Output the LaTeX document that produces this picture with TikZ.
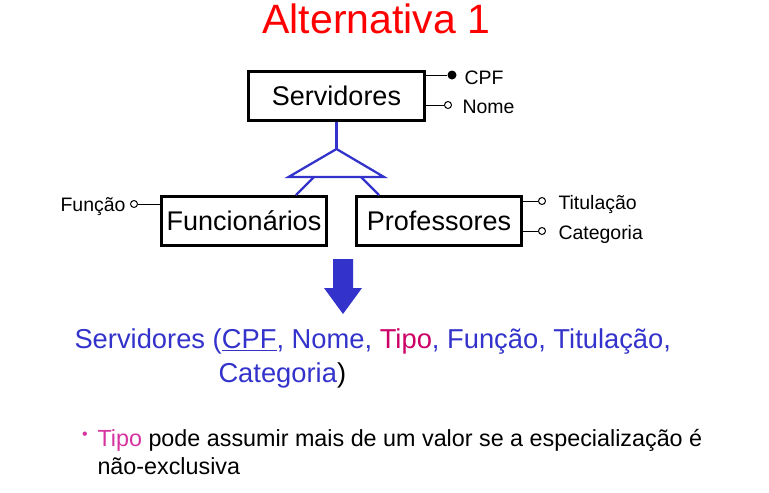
\documentclass[tikz,border=0pt]{standalone}
\usepackage{fontspec}
\setmainfont{Liberation Sans}

\definecolor{erblue}{RGB}{51,51,204}
\definecolor{tipored}{RGB}{204,0,102}
\definecolor{tipopink}{RGB}{214,51,160}
\definecolor{titlered}{RGB}{255,0,0}

\tikzset{every picture/.style={line width=0.75pt}}
\tikzset{
  entity/.style={draw, line width=2.25pt, inner sep=0pt, minimum height=36.75pt, font=\fontsize{20.25}{24}\selectfont},
  attropen/.style={circle, draw, fill=white, inner sep=0pt, minimum size=5.25pt},
  attrkey/.style={circle, fill=black, inner sep=0pt, minimum size=6.75pt},
  attrtext/.style={inner sep=0pt, font=\fontsize{14.6}{17}\selectfont},
  isaline/.style={draw=erblue, line width=1.7pt, line join=miter},
  reltext/.style={inner sep=0pt, text=erblue, font=\fontsize{20.5}{24}\selectfont},
  notetext/.style={inner sep=0pt, font=\fontsize{17.5}{21}\selectfont}
}

\begin{document}
\begin{tikzpicture}[x=0.75pt,y=0.75pt,yscale=-1,xscale=1]
	\useasboundingbox (0,0) rectangle (769,493);

	% Text Node
	\node [inner sep=0pt, text=titlered, anchor=base, font=\fontsize{30.75}{36}\selectfont] (title) at (376.5,33) {Alternativa 1};

	%Shape: Rectangle
	\node [entity, minimum width=132pt] (srv) at (336.5,96) {Servidores};
	%Shape: Rectangle
	\node [entity, minimum width=123.75pt] (func) at (244,221) {Funcionários};
	%Shape: Rectangle
	\node [entity, minimum width=123.75pt] (prof) at (439,221) {Professores};

	%Shape: Circle
	\node [attrkey] (cpf) at (452,75) {};
	\node [attropen] (nome) at (448,105) {};
	\node [attropen] (funcao) at (134,204) {};
	\node [attropen] (titul) at (542,201) {};
	\node [attropen] (categ) at (542,231) {};

	%Straight Lines
	\draw (srv.east |- cpf) -- (cpf);
	\draw (srv.east |- nome) -- (nome.west);
	\draw (func.west |- funcao) -- (funcao.east);
	\draw (prof.east |- titul) -- (titul.west);
	\draw (prof.east |- categ) -- (categ.west);

	% Text Node
	\node [attrtext, anchor=base west] (cpflbl) at (464,84) {CPF};
	\node [attrtext, anchor=base west] (nomelbl) at (462,113) {Nome};
	\node [attrtext, anchor=base east] (funcaolbl) at (126,211) {Função};
	\node [attrtext, anchor=base west] (titullbl) at (558,209) {Titulação};
	\node [attrtext, anchor=base west] (categlbl) at (558,239) {Categoria};

	%Shape: Triangle
	\coordinate (isa) at (336.5,149);
	\coordinate (isaL) at (314,177);
	\coordinate (isaR) at (361,177);
	\draw [isaline] (srv.south) -- (isa);
	\draw [isaline] (isa) -- (288.5,177) -- (384,177) -- cycle;
	\draw [isaline] (isaL) -- (296,0 |- func.north);
	\draw [isaline] (isaR) -- (379,0 |- prof.north);

	%Shape: Down Arrow
	\fill [erblue] (333,259) -- (353,259) -- (353,288) -- (362,288) -- (343,314) -- (324,288) -- (333,288) -- cycle;

	% Text Node
	\node [reltext, anchor=base west] (rel1) at (74,348) {Servidores (\underline{CPF}, Nome, \textcolor{tipored}{Tipo}, Função, Titulação,};
	% Text Node
	\node [reltext, anchor=base west] (rel2) at (218,382) {Categoria\textcolor{black}{)}};

	% Text Node
	\node [inner sep=0pt, text=tipopink, font=\fontsize{12}{14}\selectfont] (bul) at (85,436) {•};
	\node [notetext, anchor=base west] (note1) at (97,446) {\textcolor{tipopink}{Tipo} pode assumir mais de um valor se a especialização é};
	\node [notetext, anchor=base west] (note2) at (97,474) {não-exclusiva};

\end{tikzpicture}
\end{document}
